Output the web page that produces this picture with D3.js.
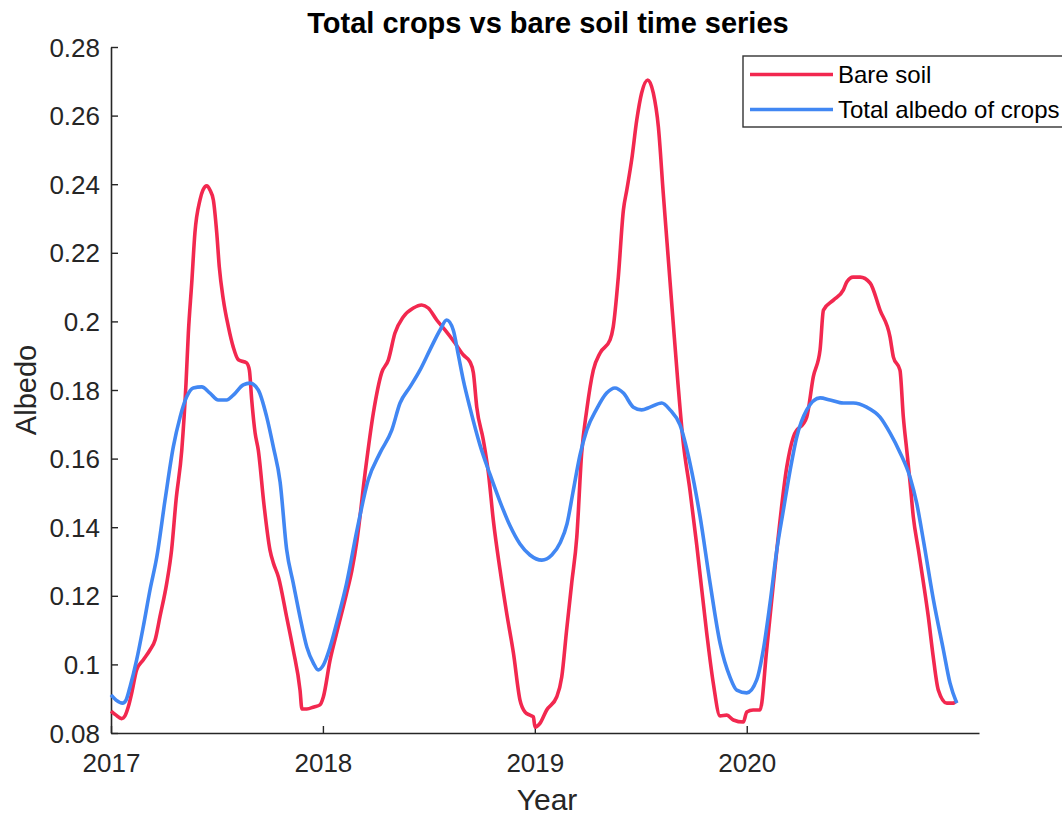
<!DOCTYPE html>
<html>
<head>
<meta charset="utf-8">
<script src="https://cdn.jsdelivr.net/npm/d3@7"></script>
<style>
  html, body { margin: 0; padding: 0; background: #fff; }
  svg { display: block; font-family: "Liberation Sans", Arial, sans-serif; }
</style>
</head>
<body>
<svg id="chart" width="1062" height="816"></svg>
<script>
// Bare soil albedo (decimal year, albedo)
const bareYears = [
  2017.000, 2017.024, 2017.050, 2017.066, 2017.082, 2017.099, 2017.121, 2017.152, 2017.184, 2017.208,
  2017.231, 2017.263, 2017.286, 2017.307, 2017.334, 2017.354, 2017.365, 2017.381, 2017.396, 2017.420,
  2017.434, 2017.452, 2017.467, 2017.483, 2017.499, 2017.511, 2017.530, 2017.554, 2017.577, 2017.601,
  2017.640, 2017.653, 2017.664, 2017.680, 2017.695, 2017.722, 2017.750, 2017.766, 2017.790, 2017.829,
  2017.860, 2017.892, 2017.901, 2017.924, 2017.958, 2017.986, 2018.002, 2018.034, 2018.065, 2018.112,
  2018.137, 2018.161, 2018.199, 2018.238, 2018.277, 2018.309, 2018.340, 2018.379, 2018.427, 2018.466,
  2018.497, 2018.537, 2018.576, 2018.623, 2018.663, 2018.694, 2018.710, 2018.726, 2018.757, 2018.781,
  2018.804, 2018.836, 2018.867, 2018.899, 2018.930, 2018.954, 2018.977, 2018.993, 2019.001, 2019.025,
  2019.056, 2019.103, 2019.127, 2019.150, 2019.174, 2019.198, 2019.221, 2019.245, 2019.276, 2019.308,
  2019.355, 2019.370, 2019.394, 2019.418, 2019.434, 2019.457, 2019.481, 2019.504, 2019.533, 2019.559,
  2019.583, 2019.606, 2019.624, 2019.652, 2019.676, 2019.699, 2019.732, 2019.764, 2019.811, 2019.842,
  2019.874, 2019.906, 2019.937, 2019.984, 2020.000, 2020.030, 2020.063, 2020.094, 2020.142, 2020.189,
  2020.220, 2020.283, 2020.314, 2020.346, 2020.362, 2020.409, 2020.456, 2020.472, 2020.502, 2020.535,
  2020.582, 2020.629, 2020.676, 2020.692, 2020.723, 2020.739, 2020.755, 2020.771, 2020.786, 2020.810,
  2020.834, 2020.857, 2020.879, 2020.904, 2020.944, 2020.975, 2020.991
];
const bareAlbedo = [
  0.0864, 0.0852, 0.0842, 0.0850, 0.0877, 0.0920, 0.0984, 0.1013, 0.1042, 0.1071,
  0.1139, 0.1237, 0.1334, 0.1479, 0.1625, 0.1820, 0.1966, 0.2112, 0.2258, 0.2354,
  0.2383, 0.2395, 0.2383, 0.2354, 0.2258, 0.2159, 0.2064, 0.1984, 0.1925, 0.1888,
  0.1879, 0.1858, 0.1771, 0.1675, 0.1625, 0.1465, 0.1334, 0.1296, 0.1255, 0.1138,
  0.1042, 0.0925, 0.0870, 0.0870, 0.0876, 0.0882, 0.0905, 0.1013, 0.1092, 0.1208,
  0.1275, 0.1363, 0.1558, 0.1733, 0.1850, 0.1888, 0.1966, 0.2013, 0.2039, 0.2048,
  0.2039, 0.2004, 0.1975, 0.1937, 0.1902, 0.1882, 0.1850, 0.1750, 0.1654, 0.1558,
  0.1421, 0.1275, 0.1150, 0.1033, 0.0896, 0.0861, 0.0852, 0.0847, 0.0817, 0.0829,
  0.0867, 0.0905, 0.0963, 0.1100, 0.1237, 0.1371, 0.1616, 0.1742, 0.1858, 0.1908,
  0.1946, 0.1984, 0.2130, 0.2325, 0.2383, 0.2471, 0.2587, 0.2666, 0.2704, 0.2666,
  0.2567, 0.2374, 0.2229, 0.2004, 0.1815, 0.1654, 0.1508, 0.1348, 0.1092, 0.0946,
  0.0850, 0.0852, 0.0838, 0.0832, 0.0861, 0.0867, 0.0867, 0.1042, 0.1334, 0.1576,
  0.1663, 0.1721, 0.1838, 0.1917, 0.2033, 0.2062, 0.2092, 0.2115, 0.2129, 0.2129,
  0.2112, 0.2033, 0.1955, 0.1896, 0.1858, 0.1721, 0.1625, 0.1529, 0.1430, 0.1334,
  0.1237, 0.1138, 0.1027, 0.0925, 0.0887, 0.0887, 0.0896
];

// Total albedo of crops (decimal year, albedo)
const cropYears = [
  2017.000, 2017.024, 2017.055, 2017.071, 2017.090, 2017.121, 2017.152, 2017.184, 2017.216, 2017.255,
  2017.294, 2017.326, 2017.357, 2017.388, 2017.428, 2017.467, 2017.506, 2017.546, 2017.577, 2017.624,
  2017.656, 2017.695, 2017.735, 2017.766, 2017.798, 2017.829, 2017.860, 2017.892, 2017.924, 2017.955,
  2017.978, 2018.002, 2018.034, 2018.065, 2018.112, 2018.161, 2018.214, 2018.269, 2018.325, 2018.364,
  2018.411, 2018.458, 2018.505, 2018.553, 2018.584, 2018.615, 2018.639, 2018.663, 2018.694, 2018.741,
  2018.789, 2018.836, 2018.883, 2018.930, 2018.977, 2019.033, 2019.080, 2019.119, 2019.152, 2019.180,
  2019.213, 2019.245, 2019.292, 2019.339, 2019.378, 2019.418, 2019.465, 2019.504,
  2019.544, 2019.599, 2019.638, 2019.685, 2019.732, 2019.780, 2019.827, 2019.874, 2019.921, 2019.953,
  2020.000, 2020.047, 2020.078, 2020.110, 2020.142, 2020.173, 2020.205, 2020.236, 2020.283, 2020.346,
  2020.393, 2020.456, 2020.503, 2020.566, 2020.629, 2020.676, 2020.723, 2020.771, 2020.802, 2020.834,
  2020.881, 2020.928, 2020.959, 2020.991
];
const cropAlbedo = [
  0.0911, 0.0896, 0.0887, 0.0896, 0.0935, 0.1013, 0.1109, 0.1217, 0.1313, 0.1479,
  0.1634, 0.1721, 0.1780, 0.1806, 0.1809, 0.1791, 0.1771, 0.1771, 0.1785, 0.1815,
  0.1820, 0.1800, 0.1721, 0.1634, 0.1532, 0.1334, 0.1237, 0.1138, 0.1051, 0.1004,
  0.0984, 0.0998, 0.1051, 0.1121, 0.1237, 0.1392, 0.1538, 0.1616, 0.1683, 0.1762,
  0.1809, 0.1858, 0.1917, 0.1975, 0.2004, 0.1975, 0.1902, 0.1827, 0.1748, 0.1640,
  0.1553, 0.1474, 0.1404, 0.1351, 0.1319, 0.1304, 0.1319, 0.1354, 0.1410, 0.1502,
  0.1610, 0.1683, 0.1745, 0.1791, 0.1806, 0.1791, 0.1750, 0.1742,
  0.1750, 0.1762, 0.1742, 0.1698, 0.1587, 0.1430, 0.1237, 0.1062, 0.0963, 0.0925,
  0.0917, 0.0955, 0.1042, 0.1179, 0.1334, 0.1450, 0.1567, 0.1663, 0.1742, 0.1777,
  0.1771, 0.1762, 0.1762, 0.1750, 0.1721, 0.1675, 0.1618, 0.1545, 0.1470, 0.1360,
  0.1188, 0.1042, 0.0946, 0.0887
];

const xTickValues = [2017, 2018, 2019, 2020];
const yTickValues = [0.08, 0.10, 0.12, 0.14, 0.16, 0.18, 0.20, 0.22, 0.24, 0.26, 0.28];
const xDomain = [2017, 2021.096];
const yDomain = [0.08, 0.28];

const seriesNames = ["Bare soil", "Total albedo of crops"];
const seriesColors = ["#f2284f", "#4187f3"];

const chartTitle = "Total crops vs bare soil time series";
const xLabel = "Year";
const yLabel = "Albedo";

// Plot area
const plot = { left: 111, right: 979, top: 47, bottom: 733 };

const svg = d3.select("#chart");

const x = d3.scaleLinear().domain(xDomain).range([plot.left, plot.right]);
const y = d3.scaleLinear().domain(yDomain).range([plot.bottom, plot.top]);

const line = d3.line()
  .x(d => x(d[0]))
  .y(d => y(d[1]))
  .curve(d3.curveMonotoneX);

const bare = d3.zip(bareYears, bareAlbedo);
const crops = d3.zip(cropYears, cropAlbedo);

// Axes (ticks pointing inward)
const axisColor = "#262626";
const yFormat = v => {
  const s = d3.format(".2f")(v);
  return s.replace(/0$/, "");
};

const gx = svg.append("g")
  .attr("transform", `translate(0,${plot.bottom})`)
  .call(d3.axisBottom(x).tickValues(xTickValues).tickFormat(d3.format("d"))
    .tickSizeInner(-7).tickSizeOuter(0).tickPadding(21));

const gy = svg.append("g")
  .attr("transform", `translate(${plot.left},0)`)
  .call(d3.axisLeft(y).tickValues(yTickValues).tickFormat(yFormat)
    .tickSizeInner(-7).tickSizeOuter(0).tickPadding(11));

[gx, gy].forEach(g => {
  g.select(".domain").attr("stroke", axisColor).attr("stroke-width", 1.6);
  g.selectAll(".tick line").attr("stroke", axisColor).attr("stroke-width", 1.4);
  g.selectAll(".tick text")
    .attr("fill", "#262626")
    .style("font-size", "26px")
    .style("font-family", "'Liberation Sans', Arial, sans-serif");
});
gy.selectAll(".tick text").attr("dy", "0.35em");

// Series lines
svg.append("path")
  .datum(bare)
  .attr("fill", "none")
  .attr("stroke", seriesColors[0])
  .attr("stroke-width", 3.6)
  .attr("stroke-linejoin", "round")
  .attr("d", line);

svg.append("path")
  .datum(crops)
  .attr("fill", "none")
  .attr("stroke", seriesColors[1])
  .attr("stroke-width", 3.6)
  .attr("stroke-linejoin", "round")
  .attr("d", line);

// Title and axis labels
svg.append("text")
  .attr("x", 548).attr("y", 33)
  .attr("text-anchor", "middle")
  .style("font-size", "29px")
  .style("font-weight", "bold")
  .attr("fill", "#000")
  .text(chartTitle);

svg.append("text")
  .attr("x", 547).attr("y", 810)
  .attr("text-anchor", "middle")
  .style("font-size", "30px")
  .attr("fill", "#262626")
  .text(xLabel);

svg.append("text")
  .attr("transform", "translate(36,390) rotate(-90)")
  .attr("text-anchor", "middle")
  .style("font-size", "29px")
  .attr("fill", "#262626")
  .text(yLabel);

// Legend
const legend = svg.append("g").attr("transform", "translate(743,56)");
legend.append("rect")
  .attr("x", 0).attr("y", 0)
  .attr("width", 340).attr("height", 71)
  .attr("fill", "#fff")
  .attr("stroke", "#333")
  .attr("stroke-width", 1.4);

seriesNames.forEach((name, i) => {
  const cy = 18.5 + i * 35;
  legend.append("line")
    .attr("x1", 7).attr("x2", 90)
    .attr("y1", cy).attr("y2", cy)
    .attr("stroke", seriesColors[i])
    .attr("stroke-width", 3.6);
  legend.append("text")
    .attr("x", 95).attr("y", cy)
    .attr("dy", "0.35em")
    .style("font-size", "24px")
    .attr("fill", "#000")
    .text(name);
});
</script>
</body>
</html>
